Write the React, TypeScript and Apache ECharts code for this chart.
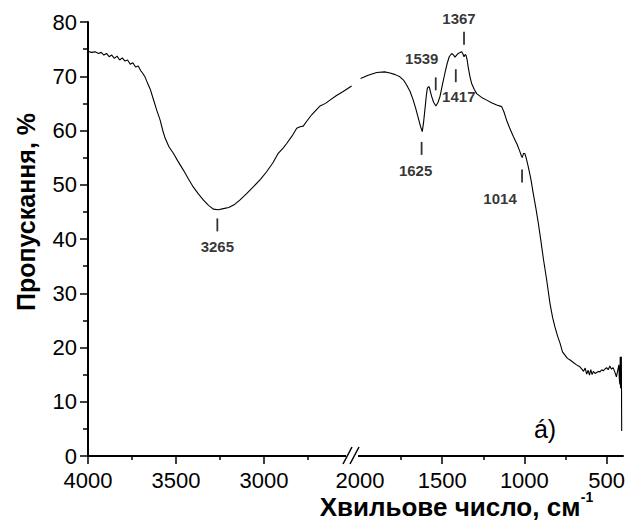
import React, { useEffect, useRef } from "react";
import * as echarts from "echarts";

// ---- Data ----
const leftWave = [4000, 3980, 3960, 3940, 3925, 3910, 3895, 3880, 3865, 3850, 3835, 3820, 3805, 3790, 3775, 3760, 3745, 3730, 3715, 3700, 3690, 3675, 3660, 3645, 3630, 3610, 3590, 3575, 3562, 3540, 3515, 3490, 3458, 3430, 3402, 3375, 3345, 3315, 3288, 3260, 3231, 3200, 3170, 3136, 3100, 3061, 3020, 2985, 2950, 2919, 2890, 2871, 2840, 2814, 2795, 2777, 2755, 2729, 2700, 2682, 2650, 2625, 2590, 2550, 2502];
const leftTrans = [74.6, 74.4, 74.5, 74.2, 74.4, 73.9, 74.2, 73.6, 73.9, 73.3, 73.7, 73.0, 73.4, 72.8, 73.0, 72.2, 72.5, 71.7, 71.9, 71.0, 70.6, 69.8, 68.6, 67.5, 65.9, 63.8, 61.9, 60.0, 58.6, 57.0, 55.8, 54.4, 52.7, 51.1, 49.6, 48.4, 47.2, 46.2, 45.5, 45.4, 45.6, 45.8, 46.3, 47.2, 48.3, 49.6, 51.0, 52.4, 54.0, 55.8, 56.8, 57.6, 59.0, 60.4, 60.7, 60.8, 61.8, 62.9, 63.9, 64.5, 65.0, 65.6, 66.4, 67.2, 68.2];

const rightWave = [1996, 1950, 1898, 1850, 1817, 1785, 1757, 1735, 1716, 1695, 1676, 1660, 1645, 1632, 1621, 1613, 1605, 1596, 1590, 1582, 1578, 1570, 1564, 1552, 1538, 1525, 1513, 1498, 1483, 1470, 1457, 1442, 1430, 1422, 1412, 1402, 1390, 1381, 1372, 1367, 1360, 1355, 1348, 1341, 1330, 1320, 1305, 1290, 1260, 1229, 1200, 1168, 1138, 1125, 1108, 1090, 1067, 1045, 1027, 1018, 1013, 1005, 996, 988, 976, 960, 946, 930, 915, 900, 885, 864, 844, 828, 814, 798, 783, 768, 753, 738, 722, 700, 682, 665, 650, 640, 630, 621, 612, 604, 596, 588, 580, 570, 560, 550, 540, 530, 520, 510, 500, 490, 480, 470, 460, 450, 440, 432, 425, 422, 419, 417, 415, 413, 410, 409, 408];
const rightTrans = [69.6, 70.2, 70.7, 70.8, 70.6, 70.3, 69.9, 69.3, 68.4, 67.2, 65.6, 64.0, 62.3, 60.8, 59.8, 61.5, 63.8, 66.5, 67.8, 68.1, 68.0, 67.0, 66.3, 65.2, 64.5, 65.2, 66.3, 68.5, 70.6, 72.3, 73.6, 74.2, 73.9, 73.5, 73.9, 74.2, 74.4, 74.5, 74.0, 73.6, 74.0, 73.9, 73.0, 71.6, 69.8, 68.6, 67.6, 66.8, 66.1, 65.6, 65.1, 64.7, 64.4, 63.5, 61.9, 60.5, 58.9, 57.5, 56.1, 55.3, 55.0, 55.8, 55.7, 54.8, 53.3, 51.0, 48.4, 45.7, 42.9, 39.8, 36.5, 32.4, 28.1, 25.5, 23.8, 22.1, 20.8, 19.2, 18.6, 18.0, 17.7, 17.2, 16.8, 16.5, 16.0, 15.6, 16.2, 15.1, 15.8, 14.9, 15.9, 15.0, 15.6, 15.2, 15.4, 15.6, 15.5, 15.9, 15.7, 16.0, 16.3, 15.9, 16.6, 16.0, 16.3, 15.5, 14.6, 15.8, 16.8, 14.0, 13.2, 18.3, 12.5, 16.0, 18.3, 12.0, 4.6];

const leftTicks = [3000, 3500, 4000];
const leftMinorTicks = [2750, 3250, 3750];
const rightTicks = [500, 1000, 1500];
const rightLabels = [500, 1000, 1500, 2000];
const rightMinorTicks = [750, 1250, 1750];

const leftPeaks = [3265];
const leftPeakY = [42.6];
const rightPeaks = [1625, 1539, 1417, 1367, 1014];
const rightPeakY = [56.7, 68.6, 70.1, 77.0, 51.6];

const FONT = "'Liberation Sans', Arial, sans-serif";

export default function App() {
  const ref = useRef<HTMLDivElement>(null);

  useEffect(() => {
    if (!ref.current) return;
    const chart = echarts.init(ref.current, undefined, { renderer: "svg" });

    const gridTop = 22;
    const gridBottom = 522 - 456;
    const labelStyle = { color: "#000", fontSize: 22, fontFamily: FONT };
    const xLabelStyle = { ...labelStyle, lineHeight: 18 };
    const plain = (v: number) => String(v);

    const peakLabelBase = {
      show: true,
      color: "#000",
      fontSize: 15,
      fontWeight: "bold" as const,
      fontFamily: FONT,
      formatter: (p: any) => String(p.value[0]),
    };
    const rightLabelCfg: any[] = [
      { position: "bottom", distance: 8, offset: [-6, 0] },
      { position: "top", distance: 11, offset: [-14, 0] },
      { position: "bottom", distance: 7, offset: [3, 0] },
      { position: "top", distance: 6, offset: [-5, 0] },
      { position: "bottom", distance: 8, offset: [-22, 0] },
    ];

    const option: any = {
      animation: false,
      backgroundColor: "#fff",
      textStyle: { fontFamily: FONT },
      grid: [
        { left: 88, width: 268, top: gridTop, bottom: gridBottom },
        { left: 356, width: 267, top: gridTop, bottom: gridBottom },
      ],
      xAxis: [
        {
          type: "value", gridIndex: 0, position: "bottom", min: 2477, max: 4000, inverse: true,
          axisLine: { show: true, onZero: false, lineStyle: { color: "#000", width: 2 } },
          axisTick: { show: true, customValues: leftTicks, length: 8, lineStyle: { color: "#000", width: 1.5 } },
          axisLabel: { show: true, customValues: leftTicks, margin: 15, formatter: plain, ...xLabelStyle },
          splitLine: { show: false },
        },
        {
          type: "value", gridIndex: 1, position: "bottom", min: 400, max: 2024, inverse: true,
          axisLine: { show: true, onZero: false, lineStyle: { color: "#000", width: 2 } },
          axisTick: { show: true, customValues: rightTicks, length: 8, lineStyle: { color: "#000", width: 1.5 } },
          axisLabel: { show: true, customValues: rightLabels, margin: 15, formatter: plain, ...xLabelStyle },
          splitLine: { show: false },
        },
        {
          type: "value", gridIndex: 0, position: "bottom", offset: 0, min: 2477, max: 4000, inverse: true,
          axisLine: { show: false, onZero: false },
          axisTick: { show: true, customValues: leftMinorTicks, length: 4, lineStyle: { color: "#000", width: 1.5 } },
          axisLabel: { show: false },
          splitLine: { show: false },
        },
        {
          type: "value", gridIndex: 1, position: "bottom", offset: 0, min: 400, max: 2024, inverse: true,
          axisLine: { show: false, onZero: false },
          axisTick: { show: true, customValues: rightMinorTicks, length: 4, lineStyle: { color: "#000", width: 1.5 } },
          axisLabel: { show: false },
          splitLine: { show: false },
        },
      ],
      yAxis: [
        {
          type: "value", gridIndex: 0, min: 0, max: 80, interval: 10,
          axisLine: { show: true, onZero: false, lineStyle: { color: "#000", width: 2 } },
          axisTick: { show: true, length: 8, lineStyle: { color: "#000", width: 1.5 } },
          minorTick: { show: true, splitNumber: 2, length: 5, lineStyle: { color: "#000", width: 1.5 } },
          axisLabel: { margin: 11, ...labelStyle },
          splitLine: { show: false },
          minorSplitLine: { show: false },
        },
        {
          type: "value", gridIndex: 1, min: 0, max: 80, interval: 10, show: false,
          splitLine: { show: false },
        },
      ],
      series: [
        {
          type: "line", xAxisIndex: 0, yAxisIndex: 0, showSymbol: false, symbol: "none",
          lineStyle: { color: "#000", width: 1.1 },
          data: leftWave.map((w, i) => [w, leftTrans[i]]),
        },
        {
          type: "line", xAxisIndex: 1, yAxisIndex: 1, showSymbol: false, symbol: "none",
          lineStyle: { color: "#000", width: 1.1 },
          data: rightWave.map((w, i) => [w, rightTrans[i]]),
        },
        {
          type: "scatter", xAxisIndex: 0, yAxisIndex: 0, symbol: "rect", symbolSize: [1.8, 13],
          itemStyle: { color: "#000" },
          label: { ...peakLabelBase, position: "bottom", distance: 8 },
          data: leftPeaks.map((w, i) => ({ value: [w, leftPeakY[i]] })),
        },
        {
          type: "scatter", xAxisIndex: 1, yAxisIndex: 1, symbol: "rect", symbolSize: [1.8, 13],
          itemStyle: { color: "#000" },
          label: { ...peakLabelBase },
          data: rightPeaks.map((w, i) => ({ value: [w, rightPeakY[i]], label: rightLabelCfg[i] })),
        },
      ],
      graphic: [
        { type: "rect", shape: { x: 346, y: 451, width: 12, height: 10 }, style: { fill: "#fff" }, z: 100 },
        { type: "line", shape: { x1: 343, y1: 464, x2: 352, y2: 447 }, style: { stroke: "#000", lineWidth: 1.5 }, z: 101 },
        { type: "line", shape: { x1: 350, y1: 464, x2: 359, y2: 447 }, style: { stroke: "#000", lineWidth: 1.5 }, z: 101 },
        {
          type: "text", x: 26, y: 212, rotation: Math.PI / 2, z: 100,
          style: { text: "Пропускання, %", font: `bold 25px ${FONT}`, fill: "#000", textAlign: "center", textVerticalAlign: "middle" },
        },
        {
          type: "text", x: 450, y: 507, z: 100,
          style: { text: "Хвильове число, см", font: `bold 26px ${FONT}`, fill: "#000", textAlign: "center", textVerticalAlign: "middle" },
        },
        {
          type: "text", x: 587, y: 497, z: 100,
          style: { text: "-1", font: `bold 14px ${FONT}`, fill: "#000", textAlign: "center", textVerticalAlign: "middle" },
        },
        {
          type: "text", x: 545, y: 441, z: 100,
          style: { text: "á)", font: `25px ${FONT}`, fill: "#000", textAlign: "center", textVerticalAlign: "bottom" },
        },
      ],
    };

    chart.setOption(option);
    return () => chart.dispose();
  }, []);

  return (
    <div
      ref={ref}
      style={{ position: "fixed", left: 0, top: 0, width: 631, height: 522, background: "#fff" }}
    />
  );
}
